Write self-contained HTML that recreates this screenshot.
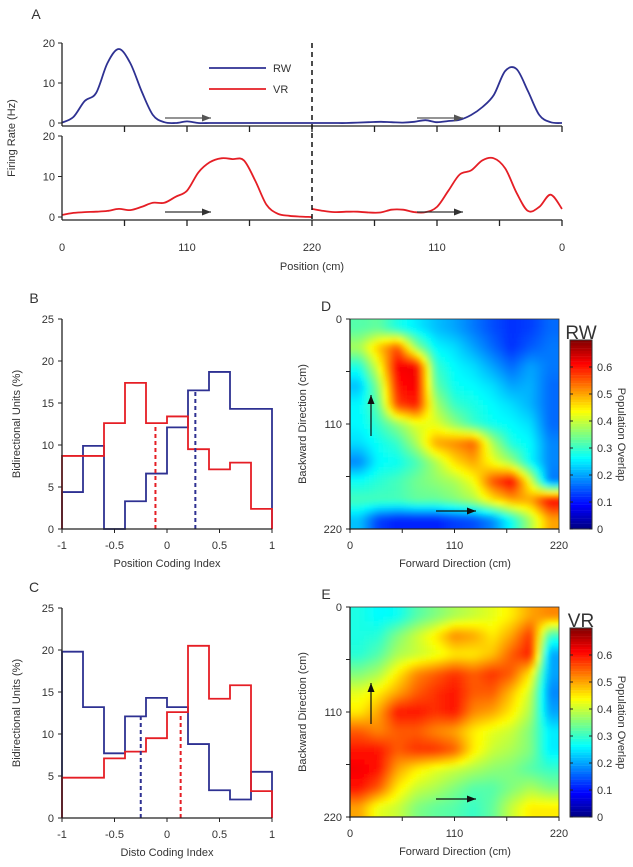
<!DOCTYPE html>
<html><head><meta charset="utf-8">
<style>
html,body{margin:0;padding:0;background:#fff;}
svg{display:block;font-family:"Liberation Sans",sans-serif;}
text{fill:#333;}
</style></head>
<body>
<svg id="fig" width="633" height="867" viewBox="0 0 633 867"></svg>
<script>
// ---------- DATA ----------
const posSamples = [0,10,20,30,40,50,60,70,80,90,100,110,120,130,140,150,160,170,180,190,200,210,220];
const rwForward = [0.1,1.5,5.5,7.5,15,18.5,15,8,2,0.2,0,0.4,0,0,0,0,0,0,0,0,0,0,0];
const rwBackward = [0,0,0,0,0.1,0.2,0.3,0.2,0.1,0.3,0.7,0.2,0.5,0.8,2,4,7,13,13.5,8,2,0.2,0];
const vrForward = [0.5,1,1.2,1.3,1.5,2,1.7,2.5,3.5,3.5,5,6.5,11,13.5,14.5,14.3,14,9,3,0.8,0.3,0.1,0];
const vrBackward = [2,1.5,1.2,1.3,1.3,1.1,1.1,1.8,1.8,1.2,1.2,2.5,6.5,10.5,11.5,14,14.5,12,6,1.5,2.5,5.5,2];
const aTickLabels = ["0","110","220","110","0"];
const aYTicks = [0,10,20];

const binEdges = [-1,-0.8,-0.6,-0.4,-0.2,0,0.2,0.4,0.6,0.8,1];
const bBlue = [4.4,9.9,0,3.3,6.6,12.1,16.5,18.7,14.3,14.3];
const bRed = [8.7,8.7,12.6,17.4,12.6,13.4,9.5,7.1,7.9,2.4];
const bMedianBlue = 0.27, bMedianRed = -0.11;
const cBlue = [19.8,13.2,7.7,12.1,14.3,13.2,8.8,3.3,2.2,5.5];
const cRed = [4.8,4.8,7.1,7.9,9.5,12.6,20.5,14.2,15.8,3.2];
const cMedianBlue = -0.25, cMedianRed = 0.13;
const histXTicks = [-1,-0.5,0,0.5,1];
const histXLabels = ["-1","-0.5","0","0.5","1"];
const histYTicks = [0,5,10,15,20,25];

const rwMatrix = [
[0.32,0.33,0.28,0.25,0.22,0.20,0.17,0.14,0.12,0.13,0.16],
[0.38,0.48,0.56,0.36,0.26,0.24,0.20,0.16,0.12,0.15,0.17],
[0.28,0.42,0.62,0.62,0.30,0.26,0.24,0.20,0.16,0.20,0.17],
[0.22,0.36,0.60,0.62,0.33,0.27,0.26,0.24,0.20,0.21,0.16],
[0.26,0.33,0.57,0.60,0.38,0.30,0.28,0.26,0.24,0.21,0.16],
[0.26,0.30,0.36,0.42,0.42,0.36,0.30,0.27,0.26,0.24,0.16],
[0.24,0.27,0.30,0.38,0.50,0.52,0.55,0.38,0.28,0.26,0.18],
[0.18,0.26,0.27,0.31,0.38,0.46,0.50,0.43,0.37,0.26,0.18],
[0.27,0.29,0.31,0.34,0.36,0.38,0.43,0.56,0.62,0.42,0.17],
[0.31,0.31,0.31,0.33,0.33,0.35,0.38,0.45,0.50,0.50,0.62],
[0.22,0.13,0.11,0.11,0.11,0.13,0.14,0.18,0.27,0.38,0.50]];
const vrMatrix = [
[0.28,0.26,0.27,0.32,0.35,0.38,0.40,0.42,0.45,0.50,0.52],
[0.28,0.29,0.35,0.40,0.45,0.52,0.50,0.45,0.50,0.58,0.30],
[0.29,0.32,0.38,0.40,0.42,0.45,0.45,0.48,0.55,0.60,0.20],
[0.35,0.38,0.45,0.52,0.55,0.58,0.55,0.58,0.55,0.45,0.20],
[0.42,0.45,0.50,0.55,0.58,0.60,0.55,0.55,0.48,0.40,0.18],
[0.45,0.50,0.60,0.60,0.58,0.60,0.52,0.50,0.45,0.38,0.20],
[0.55,0.52,0.55,0.55,0.52,0.50,0.45,0.42,0.40,0.35,0.25],
[0.60,0.60,0.55,0.58,0.58,0.55,0.45,0.40,0.38,0.35,0.25],
[0.62,0.60,0.50,0.45,0.42,0.40,0.38,0.36,0.35,0.32,0.30],
[0.60,0.55,0.45,0.40,0.38,0.35,0.32,0.32,0.35,0.38,0.35],
[0.50,0.42,0.40,0.35,0.33,0.32,0.30,0.33,0.40,0.45,0.45]];
const heatTicks = [0,55,110,165,220];
const heatTickLabels = ["0","110","220"];
const cbTicks = [0,0.1,0.2,0.3,0.4,0.5,0.6];

// ---------- HELPERS ----------
const NS = "http://www.w3.org/2000/svg";
const svg = document.getElementById("fig");
function mk(tag, attrs, parent){
  const e = document.createElementNS(NS, tag);
  for (const k in attrs) e.setAttribute(k, attrs[k]);
  (parent||svg).appendChild(e);
  return e;
}
function txt(s, x, y, size, anchor, parent, extra){
  const t = mk("text", Object.assign({x:x, y:y, "font-size":size, "text-anchor":anchor||"middle"}, extra||{}), parent);
  t.textContent = s;
  return t;
}
const BLUE = "#2e3192", RED = "#e51e25", AX = "#222";
function jet(v){
  let t = Math.max(0, Math.min(1, v/0.7));
  const c = x => Math.round(255*Math.max(0, Math.min(1, x)));
  return `rgb(${c(1.5-Math.abs(4*t-3))},${c(1.5-Math.abs(4*t-2))},${c(1.5-Math.abs(4*t-1))})`;
}
function smoothPath(pts){
  let d = `M${pts[0][0].toFixed(1)},${pts[0][1].toFixed(1)}`;
  for(let i=0;i<pts.length-1;i++){
    const p0=pts[Math.max(0,i-1)], p1=pts[i], p2=pts[i+1], p3=pts[Math.min(pts.length-1,i+2)];
    const c1=[p1[0]+(p2[0]-p0[0])/6, p1[1]+(p2[1]-p0[1])/6];
    const c2=[p2[0]-(p3[0]-p1[0])/6, p2[1]-(p3[1]-p1[1])/6];
    d += `C${c1[0].toFixed(1)},${c1[1].toFixed(1)} ${c2[0].toFixed(1)},${c2[1].toFixed(1)} ${p2[0].toFixed(1)},${p2[1].toFixed(1)}`;
  }
  return d;
}

// ---------- PANEL A ----------
const gA = mk("g", {});  
const aL = 62, aM = 312, aR = 562;
const axL = p => aL + (aM-aL)*p/220;
const axR = d => aM + (aR-aM)*d/220;
const topY = v => 123 - 80*v/20;
const botY = v => 217 - 81*v/20;
let t = txt("A", 36, 19, 14, "middle", gA);  
function line(x1,y1,x2,y2,stroke,w,parent,extra){ return mk("line",Object.assign({x1,y1,x2,y2,stroke,"stroke-width":w},extra||{}),parent); }
function curve(xs, fx, fy, vals, color, name){
  const pts = vals.map((v,i)=>[fx(xs[i]), fy(v)]);
  const p = mk("path",{d:smoothPath(pts),fill:"none",stroke:color,"stroke-width":1.8,"stroke-linejoin":"round"},gA);
   
}
curve(posSamples, axL, topY, rwForward, BLUE, "rw-forward-curve");
curve(posSamples, axR, topY, rwBackward, BLUE, "rw-backward-curve");
curve(posSamples, axL, botY, vrForward, RED, "vr-forward-curve");
curve(posSamples, axR, botY, vrBackward, RED, "vr-backward-curve");
[[126,topY],[220,botY]].forEach(([by,fy])=>{
  line(aL,by,aR,by,AX,1.3,gA);
  line(aL,fy(20),aL,by,AX,1.3,gA);
  aYTicks.forEach(v=>{ line(aL-4,fy(v),aL,fy(v),AX,1,gA); txt(String(v),aL-7,fy(v)+4,11,"end",gA); });
  for(let i=1;i<=8;i++){ const x = aL+(aR-aL)*i/8; line(x,by,x,by+6,AX,1.3,gA); }
});
aTickLabels.forEach((s,i)=>{ const x=aL+(aR-aL)*i/4; const l=txt(s,x,251,11,"middle",gA);   });
t = txt("Position (cm)", 312, 270, 11, "middle", gA);  
t = txt("Firing Rate (Hz)", 0, 0, 11, "middle", gA, {transform:"translate(15,138) rotate(-90)"});  
line(aM,43,aM,222,"#111",1.5,gA,{"stroke-dasharray":"5,4"});
const lg = mk("g",{},gA);  
line(209,68,266,68,BLUE,1.8,lg); txt("RW",273,72,11,"start",lg);
line(209,89,266,89,RED,1.8,lg); txt("VR",273,93,11,"start",lg);
function arrow(x1,y1,x2,y2,color,w,parent,name){
  const g = mk("g",{},parent);  
  line(x1,y1,x2,y2,color,w,g);
  const ang = Math.atan2(y2-y1,x2-x1), L=9, W=3.5;
  const bx = x2-L*Math.cos(ang), by = y2-L*Math.sin(ang);
  mk("polygon",{points:`${x2},${y2} ${bx-W*Math.sin(ang)},${by+W*Math.cos(ang)} ${bx+W*Math.sin(ang)},${by-W*Math.cos(ang)}`,fill:color},g);
}
arrow(165,118,211,118,"#555",1.2,gA,"direction-arrow");
arrow(417,118,463,118,"#555",1.2,gA,"direction-arrow");
arrow(165,212,211,212,"#333",1.2,gA,"direction-arrow");
arrow(417,212,463,212,"#333",1.2,gA,"direction-arrow");

// ---------- PANELS B / C ----------
function hist(letter, top0, title, blue, red, medB, medR){
  const g = mk("g",{});  
  const x0=62, x1=272, yb=top0, yt=top0-210;
  const X = v => x0+(x1-x0)*(v+1)/2;
  const Y = v => yb-(yb-yt)*v/25;
  t = txt(letter, 34, yt-16, 14, "middle", g);  
  function step(vals,color,name){
    let d = `M${X(binEdges[0])},${Y(0)}`;
    vals.forEach((v,i)=>{ d += `L${X(binEdges[i])},${Y(v)}L${X(binEdges[i+1])},${Y(v)}`; });
    d += `L${X(1)},${Y(0)}`;
    const p = mk("path",{d:d,fill:"none",stroke:color,"stroke-width":1.8},g);
     
  }
  step(blue,BLUE,"rw-histogram");
  step(red,RED,"vr-histogram");
  const binOf = m => Math.min(9,Math.floor((m+1)/0.2));
  let l = line(X(medB),Y(0),X(medB),Y(blue[binOf(medB)]),BLUE,2,g,{"stroke-dasharray":"4,3"}); 
  l = line(X(medR),Y(0),X(medR),Y(red[binOf(medR)]),RED,2,g,{"stroke-dasharray":"4,3"}); 
  line(x0,yt,x0,yb,AX,1.3,g); line(x0,yb,x1,yb,AX,1.3,g);
  histYTicks.forEach(v=>{ line(x0-4,Y(v),x0,Y(v),AX,1,g); txt(String(v),x0-8,Y(v)+4,11,"end",g); });
  histXTicks.forEach((v,i)=>{ line(X(v),yb,X(v),yb+4,AX,1,g); txt(histXLabels[i],X(v),yb+20,11,"middle",g); });
  t = txt(title,167,yb+38,11,"middle",g);  
  t = txt("Bidirectional Units (%)",0,0,11,"middle",g,{transform:`translate(20,${(yt+yb)/2}) rotate(-90)`});  
}
hist("B", 529, "Position Coding Index", bBlue, bRed, bMedianBlue, bMedianRed);
hist("C", 818, "Disto Coding Index", cBlue, cRed, cMedianBlue, cMedianRed);

// ---------- PANELS D / E ----------
let hid = 0;
function heat(letter, label, mat, top){
  const g = mk("g",{});  
  const x0=350, x1=559, y0=top, y1=top+210;
  const HX = v => x0+(x1-x0)*v/220, HY = v => y0+(y1-y0)*v/220;
  t = txt(letter, 326, y0-8, 14, "middle", g);  
  hid++;
  const defs = mk("defs",{},g);
  const cp = mk("clipPath",{id:"cp"+hid},defs); mk("rect",{x:x0,y:y0,width:x1-x0,height:y1-y0},cp);
  const f = mk("filter",{id:"bl"+hid,x:"-5%",y:"-5%",width:"110%",height:"110%"},defs); mk("feGaussianBlur",{stdDeviation:2.5},f);
  const outer = mk("g",{"clip-path":`url(#cp${hid})`},g);
  const hg = mk("g",{filter:`url(#bl${hid})`},outer);
   
  const n = mat.length, N = 44, step = 220/N;
  const val = (r,c) => {
    const rr = Math.max(0,Math.min(n-1,r)), cc = Math.max(0,Math.min(n-1,c));
    const r0=Math.floor(rr), c0=Math.floor(cc), r1=Math.min(n-1,r0+1), c1=Math.min(n-1,c0+1), fr=rr-r0, fc=cc-c0;
    return (mat[r0][c0]*(1-fc)+mat[r0][c1]*fc)*(1-fr)+(mat[r1][c0]*(1-fc)+mat[r1][c1]*fc)*fr;
  };
  for(let i=-2;i<N+2;i++) for(let j=-2;j<N+2;j++){
    const b=(i+0.5)*step, fw=(j+0.5)*step;
    const v = val(b/220*n-0.5, fw/220*n-0.5);
    mk("rect",{x:HX(j*step).toFixed(2),y:HY(i*step).toFixed(2),width:(HX(step)-HX(0)+0.6).toFixed(2),height:(HY(step)-HY(0)+0.6).toFixed(2),fill:jet(v)},hg);
  }
  mk("rect",{x:x0,y:y0,width:x1-x0,height:y1-y0,fill:"none",stroke:"#333","stroke-width":0.8},g);
  line(x0,y0,x0,y1+1,AX,1.3,g); line(x0-1,y1,x1,y1,AX,1.3,g);
  heatTicks.forEach(v=>{ line(x0-4,HY(v),x0,HY(v),AX,1,g); line(HX(v),y1,HX(v),y1+4,AX,1,g); });
  heatTickLabels.forEach((s,i)=>{ const v=i*110; txt(s,x0-8,HY(v)+4,11,"end",g); txt(s,HX(v),y1+20,11,"middle",g); });
  t = txt("Forward Direction (cm)",455,y1+38,11,"middle",g);  
  t = txt("Backward Direction (cm)",0,0,11,"middle",g,{transform:`translate(306,${(y0+y1)/2}) rotate(-90)`});  
  arrow(371,y0+117,371,y0+76,"#111",1.2,g,"backward-arrow");
  arrow(436,y0+192,476,y0+192,"#111",1.2,g,"forward-arrow");
  const cb = mk("g",{},g);  
  const cx0=570, cx1=592, cyb=y1, CY = v => cyb - 27*v/0.1;
  for(let k=0;k<70;k++){ const v=(k+0.5)/100; mk("rect",{x:cx0,y:CY((k+1)/100),width:cx1-cx0,height:2.9,fill:jet(v)},cb); }
  mk("rect",{x:cx0,y:CY(0.7),width:cx1-cx0,height:CY(0)-CY(0.7),fill:"none",stroke:"#333","stroke-width":1},cb);
  cbTicks.forEach(v=>{ line(cx0,CY(v),cx0+3,CY(v),"#222",1,cb); line(cx1-3,CY(v),cx1,CY(v),"#222",1,cb); txt(String(v),597,CY(v)+4,11,"start",cb); });
  t = txt("Population Overlap",0,0,11,"middle",cb,{transform:`translate(618,${CY(0.35)}) rotate(90)`});  
  t = txt(label,581,y0+20,19,"middle",g);  
}
heat("D","RW",rwMatrix,319);
heat("E","VR",vrMatrix,607);
</script>
</body></html>
